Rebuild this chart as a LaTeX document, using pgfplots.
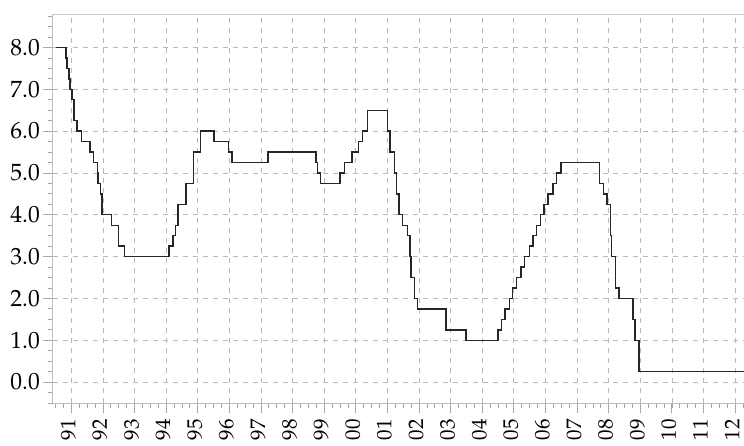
\documentclass[border=0pt]{standalone}
\usepackage[T1]{fontenc}
\usepackage{mathpazo}
\usepackage{pgfplots}
\pgfplotsset{compat=1.18}
\begin{document}
\begin{tikzpicture}
\begin{axis}[
  at={(0,0)}, anchor=south west, scale only axis,
  width=691pt, height=389pt,
  xmin=1990.42, xmax=2012.28, ymin=-0.5, ymax=8.8,
  axis x line*=bottom, axis y line*=left,
  xtick={1991,1992,...,2012},
  xticklabels={91,92,93,94,95,96,97,98,99,00,01,02,03,04,05,06,07,08,09,10,11,12},
  minor xtick={1990.5,1990.75,...,2012.26},
  ytick={0,1,...,8},
  minor ytick={-0.5,-0.25,...,8.76},
  yticklabel style={/pgf/number format/fixed, /pgf/number format/fixed zerofill, /pgf/number format/precision=1},
  tick align=outside,
  major tick length=10pt, minor tick length=5pt,
  every tick/.style={gray!70, line width=0.8pt},
  grid=major,
  major grid style={gray!55, line width=0.7pt, dash pattern=on 5pt off 5pt},
  axis line style={gray!50, line width=1pt},
  xticklabel shift=5pt,
  xticklabel style={rotate=90, yshift=3pt, anchor=east, inner sep=1pt, font=\fontsize{21}{24}\selectfont},
  every y tick label/.append style={inner sep=3pt, font=\fontsize{23.5}{26}\selectfont},
  clip=true,
]
\addplot[const plot, black!85, line width=1.4pt] coordinates {
(1990.529,8.00) (1990.825,7.75) (1990.866,7.50) (1990.932,7.25) (1990.964,7.00)
(1991.022,6.75) (1991.085,6.25) (1991.181,6.00) (1991.326,5.75) (1991.595,5.50)
(1991.699,5.25) (1991.830,5.00) (1991.847,4.75) (1991.929,4.50) (1991.967,4.00)
(1992.271,3.75) (1992.501,3.25) (1992.677,3.00)
(1994.093,3.25) (1994.219,3.50) (1994.293,3.75) (1994.373,4.25) (1994.622,4.75)
(1994.871,5.50) (1995.085,6.00) (1995.510,5.75) (1995.964,5.50) (1996.082,5.25)
(1997.227,5.50) (1998.742,5.25) (1998.786,5.00) (1998.877,4.75)
(1999.493,5.00) (1999.644,5.25) (1999.874,5.50) (2000.087,5.75) (2000.219,6.00)
(2000.372,6.50) (2001.005,6.00) (2001.082,5.50) (2001.214,5.00) (2001.293,4.50)
(2001.367,4.00) (2001.485,3.75) (2001.636,3.50) (2001.710,3.00) (2001.751,2.50)
(2001.847,2.00) (2001.942,1.75) (2002.847,1.25) (2003.479,1.00)
(2004.496,1.25) (2004.609,1.50) (2004.724,1.75) (2004.860,2.00) (2004.953,2.25)
(2005.088,2.50) (2005.219,2.75) (2005.334,3.00) (2005.493,3.25) (2005.603,3.50)
(2005.718,3.75) (2005.833,4.00) (2005.948,4.25) (2006.082,4.50) (2006.236,4.75)
(2006.353,5.00) (2006.490,5.25) (2007.712,4.75) (2007.830,4.50) (2007.942,4.25)
(2008.058,3.50) (2008.079,3.00) (2008.211,2.25) (2008.328,2.00) (2008.770,1.50)
(2008.827,1.00) (2008.959,0.25) (2012.30,0.25)
};
\draw[gray!40, line width=1.2pt] (rel axis cs:0,1) -- (rel axis cs:1,1);
\end{axis}
\pgfresetboundingbox
\path (-53pt,-42pt) rectangle (691pt,403pt);
\end{tikzpicture}
\end{document}
